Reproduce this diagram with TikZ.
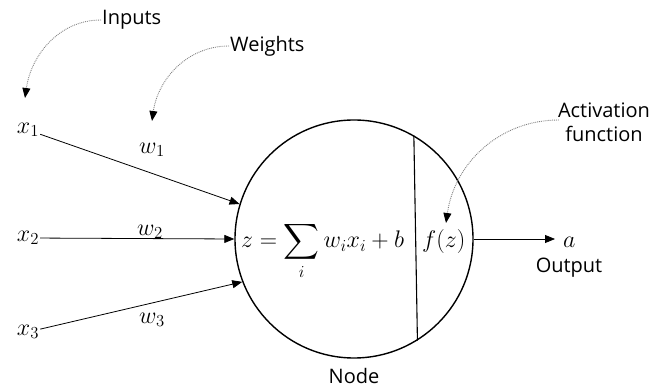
\RequirePackage{fix-cm}
\documentclass[tikz,border=0pt]{standalone}
\usepackage{amsmath}
\usepackage{fontspec}
\setmainfont{Open Sans}
\usetikzlibrary{arrows.meta, positioning, calc}

\begin{document}
\begin{tikzpicture}[
		x=1pt, y=1pt,
		% Styles
		labelText/.style={font=\fontsize{20}{24}\selectfont, inner sep=1pt, align=center},
		mathText/.style={font=\fontsize{24}{28}\selectfont, inner sep=1pt},
		neuronCircle/.style={circle, draw=black, line width=1.4pt, minimum size=238pt, inner sep=0pt},
		signalArrow/.style={-{Triangle[length=10pt, width=8pt]}, line width=0.8pt},
		pointerArrow/.style={-{Triangle[length=10pt, width=8pt, black]}, densely dotted, draw=gray, line width=0.9pt}
		]
		
		\useasboundingbox (0, 0) rectangle (655, 387);
		
		% =========================================================
		% 1. THE NODE (circle, sum and activation)
		% =========================================================
		\node[neuronCircle] (neuron) at (354, 148) {};
		\draw[line width=1.1pt] (neuron.60) -- (neuron.-58);
		\node[mathText, anchor=base west] (sum) at (240, 139) {$z = \displaystyle\sum_i w_i x_i + b$};
		\node[mathText, anchor=base west] (fz) at (421, 139) {$f(z)$};
		\node[labelText] (nodeLabel) at (354, 11) {Node};
		
		% =========================================================
		% 2. INPUTS AND WEIGHTS
		% =========================================================
		\node[mathText] (x1) at (28, 257) {$x_1$};
		\node[mathText] (x2) at (28, 149) {$x_2$};
		\node[mathText] (x3) at (28, 55) {$x_3$};
		
		\node[mathText] (w1) at (152, 237) {$w_1$};
		\node[mathText] (w2) at (150, 155) {$w_2$};
		\node[mathText] (w3) at (152, 67) {$w_3$};
		
		\draw[signalArrow] (x1) -- (neuron.163);
		\draw[signalArrow] (x2) -- (neuron.west);
		\draw[signalArrow] (x3) -- (neuron.201);
		
		% =========================================================
		% 3. OUTPUT
		% =========================================================
		\node[mathText, anchor=base west, inner sep=8pt] (a) at (555, 139) {$a$};
		\node[labelText] (output) at (569, 119) {Output};
		\draw[signalArrow] (neuron.east) -- (neuron.east -| a.west);
		
		% =========================================================
		% 4. CALLOUTS
		% =========================================================
		\node[labelText, anchor=west] (inputs) at (101, 367) {Inputs};
		\coordinate (inputsTip) at (25, 289);
		\draw[pointerArrow] (inputs.west) to[out=180, in=82] (inputsTip);
		
		\node[labelText, anchor=west] (weights) at (229, 341) {Weights};
		\coordinate (weightsTip) at (152, 266);
		\draw[pointerArrow] (weights.west) to[out=180, in=82] (weightsTip);
		
		\node[labelText] (activation) at (604, 265) {Activation\\function};
		\coordinate (activationTip) at (446, 164);
		\draw[pointerArrow] ($(activation.west)+(2, 2)$) to[out=180, in=82] (activationTip);
		
	\end{tikzpicture}
\end{document}
